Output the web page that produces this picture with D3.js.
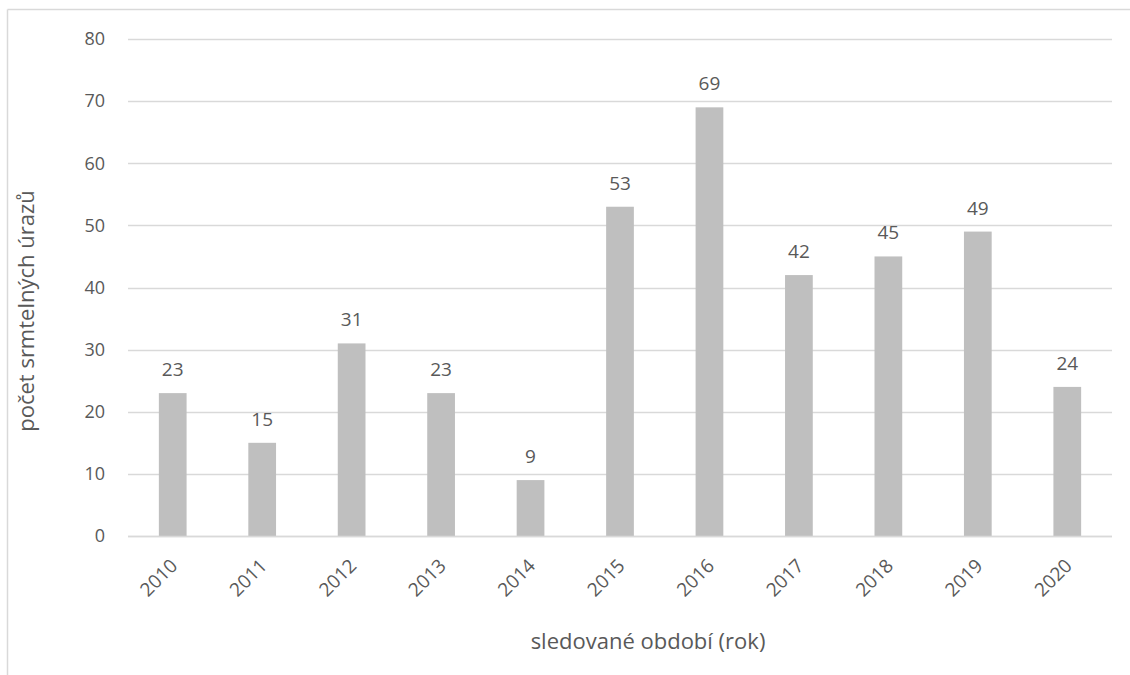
<!DOCTYPE html>
<html>
<head>
<meta charset="utf-8">
<script src="https://cdn.jsdelivr.net/npm/d3@7"></script>
<style>
  html, body { margin: 0; padding: 0; background: #fff; }
  svg { display: block; }
  text { font-family: "Open Sans", "Liberation Sans", sans-serif; fill: #595959; }
</style>
</head>
<body>
<svg id="chart" width="1130" height="675"></svg>
<script>
// Fatal injuries per year
const years = ["2010", "2011", "2012", "2013", "2014", "2015", "2016", "2017", "2018", "2019", "2020"];
const injuries = [23, 15, 31, 23, 9, 53, 69, 42, 45, 49, 24];
const yTicks = [0, 10, 20, 30, 40, 50, 60, 70, 80];
const xTitle = "sledované období (rok)";
const yTitle = "počet srmtelných úrazů";

const svg = d3.select("#chart");
const W = 1130, H = 675;
const plot = { left: 128, right: 1112, top: 39, bottom: 536 };

// outer frame (top and left edges visible)
svg.append("line").attr("x1", 7.5).attr("x2", W).attr("y1", 9.5).attr("y2", 9.5)
  .attr("stroke", "#D9D9D9").attr("stroke-width", 1.5);
svg.append("line").attr("x1", 7.5).attr("x2", 7.5).attr("y1", 9.5).attr("y2", H)
  .attr("stroke", "#D9D9D9").attr("stroke-width", 1.5);

const x = d3.scaleBand().domain(years).range([plot.left, plot.right]).paddingInner(0.69).paddingOuter(0.345);
const y = d3.scaleLinear().domain([0, 80]).range([plot.bottom, plot.top]);

// gridlines
svg.append("g").selectAll("line").data(yTicks).join("line")
  .attr("x1", plot.left).attr("x2", plot.right)
  .attr("y1", d => Math.round(y(d)) + 0.5).attr("y2", d => Math.round(y(d)) + 0.5)
  .attr("stroke", "#D9D9D9").attr("stroke-width", 1.3);

// y tick labels
svg.append("g").selectAll("text").data(yTicks).join("text")
  .attr("x", 105).attr("y", d => y(d)).attr("dy", "0.35em")
  .attr("text-anchor", "end").attr("font-size", 18).text(d => d);

// bars
svg.append("g").selectAll("rect").data(years).join("rect")
  .attr("x", d => x(d)).attr("width", x.bandwidth())
  .attr("y", (d, i) => y(injuries[i])).attr("height", (d, i) => y(0) - y(injuries[i]))
  .attr("fill", "#BFBFBF");

// baseline over bars
svg.append("line").attr("x1", plot.left).attr("x2", plot.right)
  .attr("y1", y(0) + 0.5).attr("y2", y(0) + 0.5).attr("stroke", "#D9D9D9").attr("stroke-width", 1.3);

// value labels
svg.append("g").selectAll("text").data(years).join("text")
  .attr("x", d => x(d) + x.bandwidth() / 2)
  .attr("y", (d, i) => y(injuries[i]) - 17)
  .attr("text-anchor", "middle").attr("font-size", 19)
  .text((d, i) => injuries[i]);

// x tick labels, rotated
svg.append("g").selectAll("text").data(years).join("text")
  .attr("transform", d => `translate(${x(d) + x.bandwidth() / 2 + 6},${plot.bottom + 31}) rotate(-45)`)
  .attr("text-anchor", "end").attr("font-size", 19)
  .text(d => d);

// axis titles
svg.append("text").attr("x", 648).attr("y", 649)
  .attr("text-anchor", "middle").attr("font-size", 22).text(xTitle);
svg.append("text").attr("transform", `translate(34,311) rotate(-90)`)
  .attr("text-anchor", "middle").attr("font-size", 22).text(yTitle);
</script>
</body>
</html>
